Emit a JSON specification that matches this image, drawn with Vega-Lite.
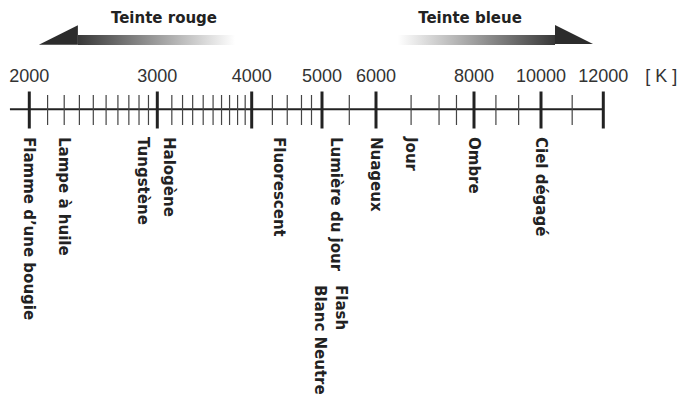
{
  "$schema": "https://vega.github.io/schema/vega-lite/v6.json",
  "width": 680,
  "height": 395,
  "autosize": "none",
  "padding": 0,
  "background": "white",
  "config": {"view": {"stroke": null}},
  "datasets": {
    "major": [{"K": 2000}, {"K": 3000}, {"K": 4000}, {"K": 5000}, {"K": 6000}, {"K": 8000}, {"K": 10000}, {"K": 12000}],
    "minor": [
      {"K": 2100}, {"K": 2200}, {"K": 2300}, {"K": 2400}, {"K": 2500}, {"K": 2600}, {"K": 2700}, {"K": 2800}, {"K": 2900},
      {"K": 3120}, {"K": 3215}, {"K": 3310}, {"K": 3415}, {"K": 3520}, {"K": 3615}, {"K": 3710}, {"K": 3810}, {"K": 3910},
      {"K": 4250}, {"K": 4450}, {"K": 4660}, {"K": 4820},
      {"K": 5460},
      {"K": 6590}, {"K": 7150}, {"K": 7550},
      {"K": 8560}, {"K": 9230},
      {"K": 10910}
    ],
    "labels": [
      {"K": 2000, "label": "Flamme d’une bougie"},
      {"K": 2200, "label": "Lampe à huile"},
      {"K": 2840, "label": "Tungstène"},
      {"K": 3100, "label": "Halogène"},
      {"K": 4340, "label": "Fluorescent"},
      {"K": 5230, "label": "Lumière du jour"},
      {"K": 6000, "label": "Nuageux"},
      {"K": 6590, "label": "Jour"},
      {"K": 8000, "label": "Ombre"},
      {"K": 10000, "label": "Ciel dégagé"}
    ],
    "flash": [{"K": 5310, "label": "Flash\nBlanc Neutre"}],
    "axisline": [{"from": 1904, "to": 12000}],
    "unit": [{"K": 12000, "unit": "[ K ]"}],
    "hues": [{"K": 3054, "name": "Teinte rouge"}, {"K": 7893, "name": "Teinte bleue"}],
    "redArrow": [{"head": 2164, "from": 2290, "to": 3777}],
    "blueArrow": [{"head": 10968, "from": 6356, "to": 10390}]
  },
  "layer": [
    {
      "data": {"name": "axisline"},
      "mark": {"type": "rule", "y": 109.3, "strokeWidth": 2, "color": "#222"},
      "encoding": {
        "x": {"field": "from", "type": "quantitative", "axis": null,
              "scale": {"type": "pow", "exponent": -1, "nice": false, "zero": false,
                        "domain": [2000, 3000, 4000, 5000, 6000, 8000, 10000, 12000],
                        "range": [29.3, 157.3, 251.7, 322, 376, 474, 541, 603.3]}},
        "x2": {"field": "to"}
      }
    },
    {
      "data": {"name": "minor"},
      "mark": {"type": "rule", "y": 95, "y2": 125, "strokeWidth": 1.2, "color": "#444"},
      "encoding": {"x": {"field": "K", "type": "quantitative", "axis": null}}
    },
    {
      "data": {"name": "major"},
      "mark": {"type": "rule", "y": 91.5, "y2": 128.5, "strokeWidth": 3, "color": "#222"},
      "encoding": {"x": {"field": "K", "type": "quantitative", "axis": null}}
    },
    {
      "data": {"name": "major"},
      "mark": {"type": "text", "y": 81.5, "align": "center", "baseline": "alphabetic", "font": "Liberation Sans", "fontSize": 18, "color": "#333"},
      "encoding": {
        "x": {"field": "K", "type": "quantitative", "axis": null},
        "text": {"field": "K", "type": "quantitative", "format": "d"}
      }
    },
    {
      "data": {"name": "unit"},
      "mark": {"type": "text", "y": 81.5, "dx": 58, "align": "center", "baseline": "alphabetic", "font": "Liberation Sans", "fontSize": 18, "color": "#333"},
      "encoding": {
        "x": {"field": "K", "type": "quantitative", "axis": null},
        "text": {"field": "unit", "type": "nominal"}
      }
    },
    {
      "data": {"name": "labels"},
      "mark": {"type": "text", "y": 137, "angle": 90, "align": "left", "baseline": "middle", "font": "DejaVu Sans", "fontWeight": "bold", "fontSize": 15, "color": "#222"},
      "encoding": {
        "x": {"field": "K", "type": "quantitative", "axis": null},
        "text": {"field": "label", "type": "nominal"}
      }
    },
    {
      "data": {"name": "flash"},
      "mark": {"type": "text", "y": 285, "angle": 90, "align": "left", "baseline": "middle", "lineBreak": "\n", "lineHeight": 21, "font": "DejaVu Sans", "fontWeight": "bold", "fontSize": 15, "color": "#222"},
      "encoding": {
        "x": {"field": "K", "type": "quantitative", "axis": null},
        "text": {"field": "label", "type": "nominal"}
      }
    },
    {
      "data": {"name": "redArrow"},
      "mark": {"type": "rect", "y": 35, "y2": 45,
               "fill": {"gradient": "linear", "x1": 0, "y1": 0, "x2": 1, "y2": 0,
                        "stops": [{"offset": 0, "color": "#383838"}, {"offset": 1, "color": "#ffffff"}]}},
      "encoding": {
        "x": {"field": "from", "type": "quantitative", "axis": null},
        "x2": {"field": "to"}
      }
    },
    {
      "data": {"name": "redArrow"},
      "mark": {"type": "point", "y": 35, "shape": "M -1 0.5 L 1 -0.5 L 1 0.5 Z", "size": 1521, "filled": true, "color": "#2c2c2c", "opacity": 1, "strokeWidth": 0},
      "encoding": {"x": {"field": "head", "type": "quantitative", "axis": null}}
    },
    {
      "data": {"name": "blueArrow"},
      "mark": {"type": "rect", "y": 35, "y2": 45,
               "fill": {"gradient": "linear", "x1": 0, "y1": 0, "x2": 1, "y2": 0,
                        "stops": [{"offset": 0, "color": "#ffffff"}, {"offset": 1, "color": "#383838"}]}},
      "encoding": {
        "x": {"field": "from", "type": "quantitative", "axis": null},
        "x2": {"field": "to"}
      }
    },
    {
      "data": {"name": "blueArrow"},
      "mark": {"type": "point", "y": 34.5, "shape": "M 1 0.5 L -1 -0.5 L -1 0.5 Z", "size": 1444, "filled": true, "color": "#2c2c2c", "opacity": 1, "strokeWidth": 0},
      "encoding": {"x": {"field": "head", "type": "quantitative", "axis": null}}
    },
    {
      "data": {"name": "hues"},
      "mark": {"type": "text", "y": 23, "align": "center", "baseline": "alphabetic", "font": "DejaVu Sans", "fontWeight": "bold", "fontSize": 15, "color": "#222"},
      "encoding": {
        "x": {"field": "K", "type": "quantitative", "axis": null},
        "text": {"field": "name", "type": "nominal"}
      }
    }
  ]
}
